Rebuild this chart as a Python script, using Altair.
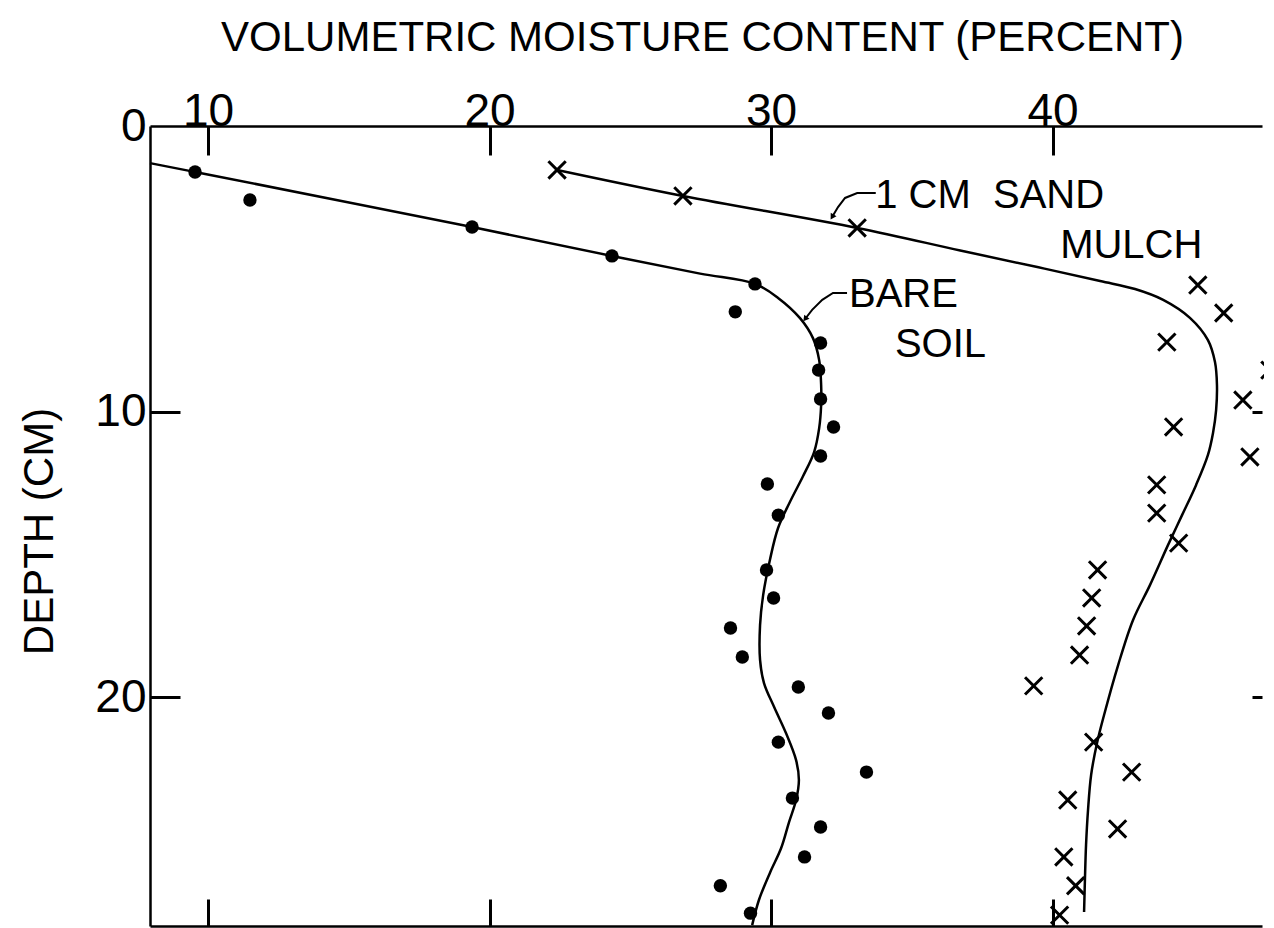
import altair as alt
import pandas as pd

FONT = "Liberation Sans"

# ---- axis ranges and tick values ----
X_MIN, X_MAX = 7.94, 47.44
Y_MAX = 28.02
x_tick_values = [10, 20, 30, 40]
y_label_values = [0, 10, 20]
y_tick_values = [10, 20]

# ---- observed points: bare soil (filled dots) ----
bare_x = [9.54, 11.49, 19.38, 24.35, 29.43, 28.73, 31.76, 31.69, 31.76, 32.22, 31.76, 29.87, 30.26,
          29.84, 30.09, 28.56, 28.98, 30.97, 32.04, 30.26, 33.39, 30.76, 31.76, 31.19, 28.20, 29.27]
bare_depth = [1.61, 2.59, 3.54, 4.55, 5.53, 6.51, 7.60, 8.55, 9.56, 10.54, 11.56, 12.54, 13.63,
              15.55, 16.53, 17.58, 18.60, 19.65, 20.56, 21.58, 22.63, 23.54, 24.55, 25.60, 26.61, 27.57]

# ---- observed points: 1 cm sand mulch (crosses) ----
mulch_x = [22.40, 26.87, 33.06, 45.16, 46.08, 44.06, 47.72, 46.76, 44.30, 47.01, 43.70, 43.70, 44.48,
           41.60, 41.39, 41.21, 40.96, 39.33, 41.46, 42.81, 40.54, 42.31, 40.40, 40.82, 40.25]
mulch_depth = [1.54, 2.45, 3.57, 5.57, 6.55, 7.57, 8.55, 9.60, 10.54, 11.59, 12.57, 13.56, 14.61,
               15.55, 16.53, 17.51, 18.53, 19.61, 21.58, 22.63, 23.61, 24.62, 25.60, 26.61, 27.64]

# ---- fitted curves ----
bare_curve_x = [7.94, 9.54, 19.38, 24.35, 27.48, 29.43, 30.25, 31.03, 31.49, 31.71, 31.78, 31.78, 31.71,
                31.53, 31.14, 30.67, 30.25, 29.96, 29.72, 29.61, 29.61, 29.75, 30.11, 30.53, 30.89, 30.99,
                30.89, 30.64, 30.36, 29.96, 29.57, 29.33]
bare_curve_depth = [1.30, 1.61, 3.54, 4.55, 5.17, 5.53, 6.02, 6.73, 7.43, 8.20, 9.07, 9.77, 10.58,
                    11.42, 12.26, 13.17, 14.08, 15.20, 16.43, 17.48, 18.70, 19.51, 20.35, 21.26, 22.21, 22.91,
                    23.61, 24.38, 25.29, 26.16, 27.11, 27.99]
mulch_curve_x = [22.40, 26.87, 33.06, 36.72, 39.50, 41.69, 42.93, 43.93, 44.88, 45.52, 45.77, 45.84, 45.81,
                 45.70, 45.52, 45.10, 44.60, 44.10, 43.46, 42.86, 42.33, 41.83, 41.58, 41.37, 41.26, 41.19,
                 41.15, 41.12]
mulch_curve_depth = [1.54, 2.45, 3.57, 4.36, 4.95, 5.43, 5.71, 6.09, 6.72, 7.50, 8.27, 9.07, 9.95,
                     10.75, 11.52, 12.57, 13.63, 14.68, 16.08, 17.30, 18.88, 20.63, 21.61, 22.73, 23.96, 25.18,
                     26.41, 27.53]

# ---- annotations ----
label_text = ["1 CM\u00a0\u00a0SAND", "MULCH", "BARE", "SOIL"]
label_x = [33.70, 40.27, 32.77, 34.40]
label_y = [2.87, 4.62, 6.34, 8.09]

leader_sand_x = [33.72, 33.06, 32.63, 32.38, 32.17]
leader_sand_y = [2.35, 2.35, 2.52, 2.84, 3.19]
leader_bare_x = [32.70, 32.20, 31.82, 31.46, 31.21]
leader_bare_y = [5.85, 5.85, 6.09, 6.44, 6.76]
arrow_x = [32.17, 31.21]
arrow_y = [3.19, 6.76]
arrow_angle = [211, 218]

# ---- tables ----
bare_df = pd.DataFrame({"x": bare_x, "depth": bare_depth})
mulch_df = pd.DataFrame({"x": mulch_x, "depth": mulch_depth})
bare_curve_df = pd.DataFrame({"x": bare_curve_x, "depth": bare_curve_depth,
                              "i": list(range(len(bare_curve_x)))})
mulch_curve_df = pd.DataFrame({"x": mulch_curve_x, "depth": mulch_curve_depth,
                               "i": list(range(len(mulch_curve_x)))})
labels_df = pd.DataFrame({"label": label_text, "x": label_x, "depth": label_y})
leader_df = pd.DataFrame({
    "x": leader_sand_x + leader_bare_x,
    "depth": leader_sand_y + leader_bare_y,
    "g": ["sand"] * len(leader_sand_x) + ["bare"] * len(leader_bare_x),
    "i": list(range(len(leader_sand_x))) + list(range(len(leader_bare_x))),
})
arrow_df = pd.DataFrame({"x": arrow_x, "depth": arrow_y, "ang": arrow_angle})

W, H = 1112, 800

xs = alt.Scale(domain=[X_MIN, X_MAX], nice=False, zero=False)
ys = alt.Scale(domain=[0, Y_MAX], reverse=True, nice=False, zero=False)

ax_top = alt.Axis(orient="top", values=x_tick_values, domain=True, domainColor="black", domainWidth=2.5,
                  ticks=False, tickSize=0, labels=True, labelFont=FONT, labelFontSize=46,
                  labelColor="black", labelPadding=1, labelBaseline="alphabetic", labelFlush=False,
                  labelOverlap=False, grid=False,
                  title="VOLUMETRIC MOISTURE CONTENT (PERCENT)", titleFont=FONT, titleFontSize=42,
                  titleFontWeight="normal", titleColor="black", titleX=552, titleY=-76,
                  titleAlign="center", titleBaseline="alphabetic", titleAngle=0)
ax_left = alt.Axis(orient="left", values=y_label_values, domain=True, domainColor="black", domainWidth=2.5,
                   ticks=False, tickSize=0, labels=True, labelFont=FONT, labelFontSize=46,
                   labelColor="black", labelPadding=4, labelBaseline="middle", labelAlign="right",
                   labelFlush=False, labelOverlap=False, grid=False,
                   title="DEPTH (CM)", titleFont=FONT, titleFontSize=42, titleFontWeight="normal",
                   titleColor="black", titleX=-98, titleY=405, titleAngle=270,
                   titleAlign="center", titleBaseline="alphabetic")
ax_top_ticks = alt.Axis(orient="top", values=x_tick_values, offset=-29, tickSize=29, tickWidth=3,
                        tickColor="black", domain=False, labels=False, grid=False, title=None)
ax_left_ticks = alt.Axis(orient="left", values=y_tick_values, offset=-30, tickSize=30, tickWidth=3,
                         tickColor="black", domain=False, labels=False, grid=False, title=None)
ax_bottom_ticks = alt.Axis(orient="bottom", values=x_tick_values, offset=-27, tickSize=27, tickWidth=3,
                           tickColor="black", domain=False, labels=False, grid=False, title=None)
ax_right_ticks = alt.Axis(orient="right", values=y_tick_values, offset=-10, tickSize=10, tickWidth=3,
                          tickColor="black", domain=False, labels=False, grid=False, title=None)
ax_bottom_line = alt.Axis(orient="bottom", domain=True, domainColor="black", domainWidth=2.5,
                          ticks=False, labels=False, grid=False, title=None)

CROSS = "M-1,-1L1,1M-1,1L1,-1"

bare_line = alt.Chart(bare_curve_df).mark_line(
    interpolate="catmull-rom", color="black", strokeWidth=2.5
).encode(
    x=alt.X("x:Q", scale=xs, axis=ax_top),
    y=alt.Y("depth:Q", scale=ys, axis=ax_left),
    order=alt.Order("i:Q"),
)

mulch_line = alt.Chart(mulch_curve_df).mark_line(
    interpolate="catmull-rom", color="black", strokeWidth=2.5
).encode(
    x=alt.X("x:Q", scale=xs, axis=ax_top_ticks),
    y=alt.Y("depth:Q", scale=ys, axis=ax_left_ticks),
    order=alt.Order("i:Q"),
)

bare_pts = alt.Chart(bare_df).mark_point(
    shape="circle", filled=True, size=180, color="black", opacity=1
).encode(
    x=alt.X("x:Q", scale=xs, axis=ax_bottom_ticks),
    y=alt.Y("depth:Q", scale=ys, axis=ax_right_ticks),
)

mulch_pts = alt.Chart(mulch_df).mark_point(
    shape=CROSS, filled=False, size=300, strokeWidth=3, color="black", opacity=1
).encode(
    x=alt.X("x:Q", scale=xs, axis=ax_bottom_line),
    y=alt.Y("depth:Q", scale=ys, axis=None),
)

leaders = alt.Chart(leader_df).mark_line(color="black", strokeWidth=2).encode(
    x=alt.X("x:Q", scale=xs, axis=None),
    y=alt.Y("depth:Q", scale=ys, axis=None),
    detail="g:N",
    order=alt.Order("i:Q"),
)

arrows = alt.Chart(arrow_df).mark_point(
    shape="triangle-up", filled=True, size=45, color="black", opacity=1
).encode(
    x=alt.X("x:Q", scale=xs, axis=None),
    y=alt.Y("depth:Q", scale=ys, axis=None),
    angle=alt.Angle("ang:Q", scale=None),
)

texts = alt.Chart(labels_df).mark_text(
    align="left", baseline="alphabetic", font=FONT, fontSize=40, color="black"
).encode(
    x=alt.X("x:Q", scale=xs, axis=None),
    y=alt.Y("depth:Q", scale=ys, axis=None),
    text="label:N",
)

chart = alt.layer(
    bare_line, mulch_line, bare_pts, mulch_pts, leaders, arrows, texts
).resolve_axis(
    x="independent", y="independent"
).properties(
    width=W, height=H,
    autosize=alt.AutoSizeParams(type="none"),
    padding={"left": 142, "top": 118, "right": 2, "bottom": 2},
    background="white",
).configure_view(
    stroke=None
).configure_axis(
    grid=False
)

chart.save("out.html", embed_options={"renderer": "svg", "actions": False})
